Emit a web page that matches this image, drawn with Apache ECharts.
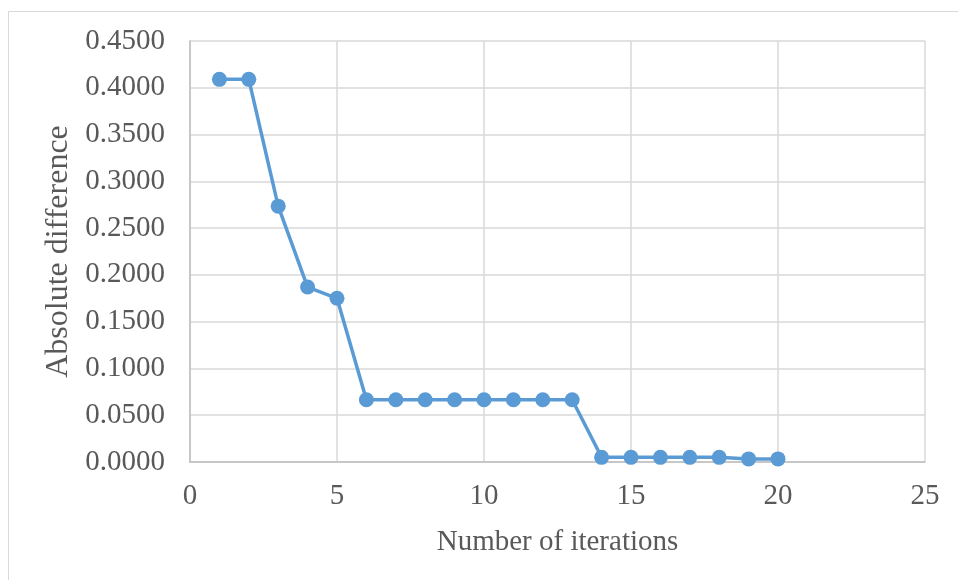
<!DOCTYPE html>
<html><head><meta charset="utf-8">
<script src="https://cdn.jsdelivr.net/npm/echarts@6/dist/echarts.min.js"></script>
<style>html,body{margin:0;padding:0;background:#fff}#c{width:958px;height:580px}</style>
</head><body><div id="c"></div>
<script>
var iterations = [1,2,3,4,5,6,7,8,9,10,11,12,13,14,15,16,17,18,19,20];
var absDiff = [0.409,0.409,0.2735,0.187,0.175,0.0665,0.0665,0.0665,0.0665,0.0665,0.0665,0.0665,0.0665,0.005,0.005,0.005,0.005,0.005,0.0033,0.0033];
var xName = 'Number of iterations';
var yName = 'Absolute difference';

var chart = echarts.init(document.getElementById('c'));
var font = '"Liberation Serif","Times New Roman",serif';
chart.setOption({
  animation:false,
  graphic:[{type:'rect',shape:{x:8.5,y:11.5,width:1000,height:1000},style:{fill:'none',stroke:'#d9d9d9',lineWidth:1}}],
  grid:{left:190,right:33,top:41,bottom:118},
  xAxis:{type:'value',min:0,max:25,interval:5,
    name:xName,nameLocation:'middle',nameGap:66,
    nameTextStyle:{fontFamily:font,fontSize:29,color:'#595959'},
    axisLine:{show:true,onZero:false,lineStyle:{color:'#bfbfbf',width:1.5}},axisTick:{show:false},
    axisLabel:{fontFamily:font,fontSize:29,color:'#595959',margin:20},
    splitLine:{show:true,lineStyle:{color:'#d9d9d9',width:1.5}}},
  yAxis:{type:'value',min:0,max:0.45,interval:0.05,
    name:yName,nameLocation:'middle',nameGap:114,
    nameTextStyle:{fontFamily:font,fontSize:32,color:'#595959'},
    axisLine:{show:true,lineStyle:{color:'#bfbfbf',width:1.5}},axisTick:{show:false},
    axisLabel:{fontFamily:font,fontSize:29,color:'#595959',margin:25,formatter:function(v){return v.toFixed(4);}},
    splitLine:{show:true,lineStyle:{color:'#d9d9d9',width:1.5}}},
  series:[{type:'line',data:iterations.map(function(x,i){return [x,absDiff[i]];}),
    symbol:'circle',symbolSize:15,
    lineStyle:{color:'#5b9bd5',width:3.5},
    itemStyle:{color:'#5b9bd5'}}]
});
</script></body></html>
